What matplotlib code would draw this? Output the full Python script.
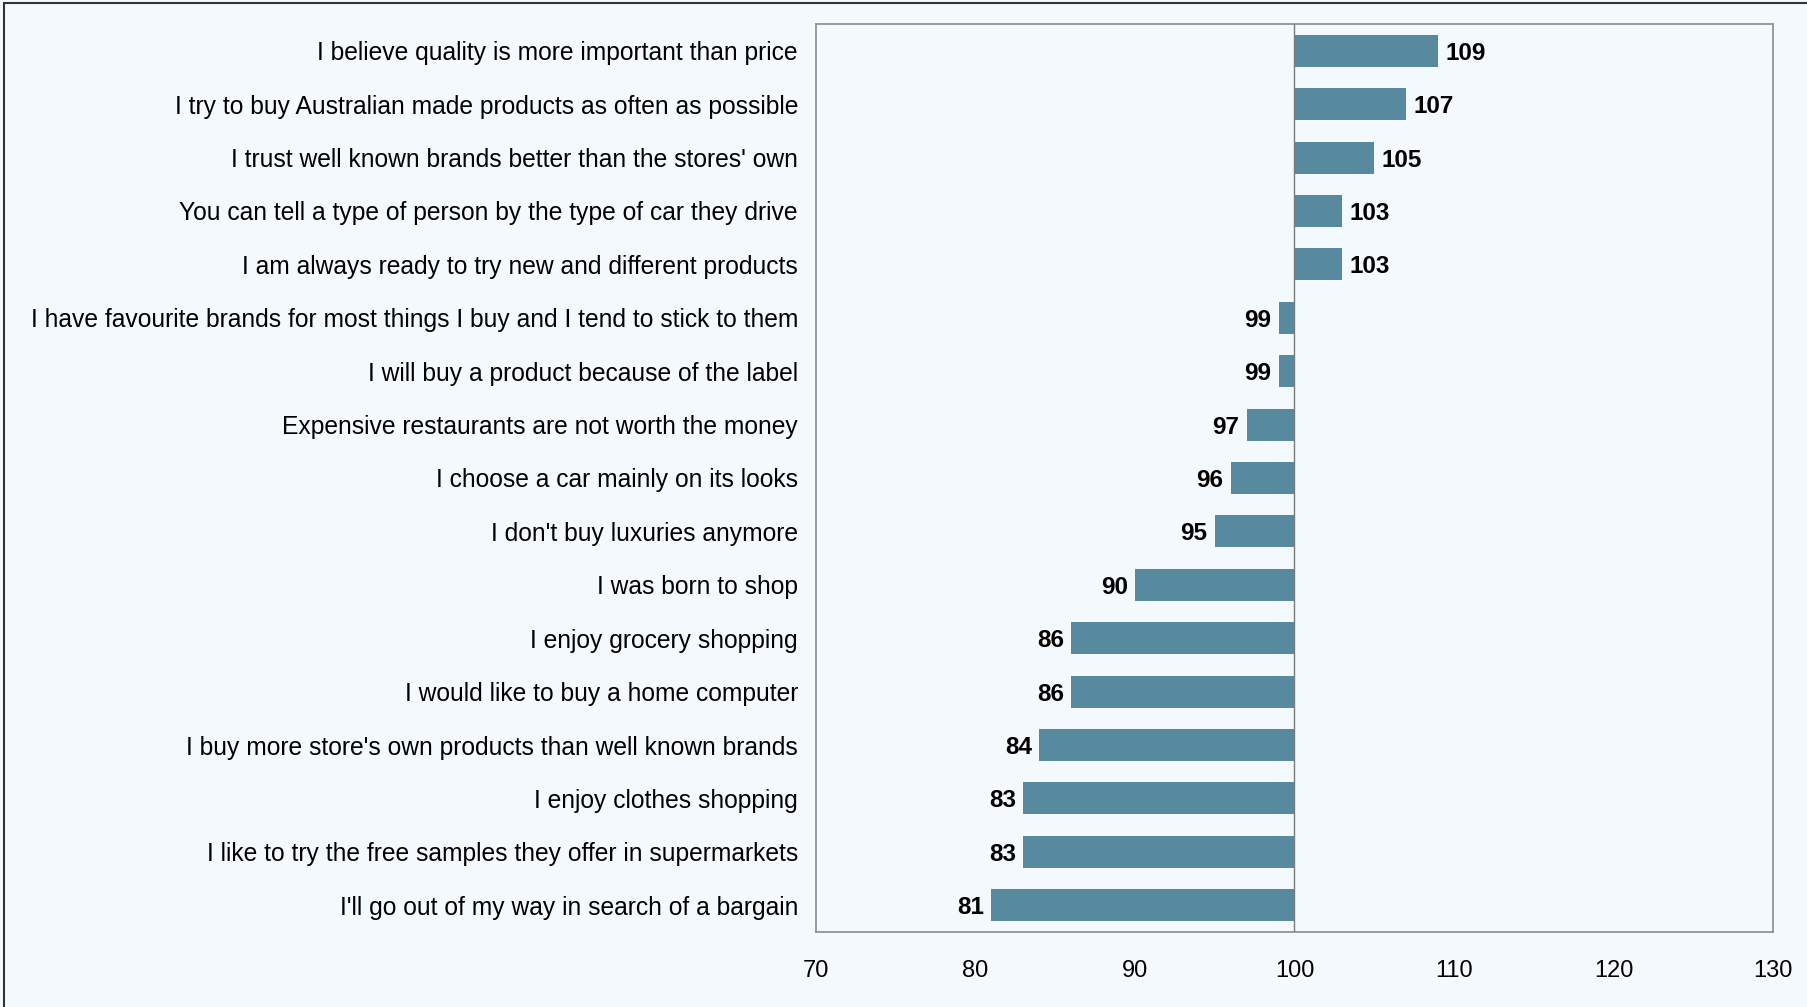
import matplotlib.pyplot as plt
from matplotlib.patches import Rectangle

plt.rcParams['font.family'] = ['Liberation Sans', 'DejaVu Sans']

statements = [
    "I believe quality is more important than price",
    "I try to buy Australian made products as often as possible",
    "I trust well known brands better than the stores' own",
    "You can tell a type of person by the type of car they drive",
    "I am always ready to try new and different products",
    "I have favourite brands for most things I buy and I tend to stick to them",
    "I will buy a product because of the label",
    "Expensive restaurants are not worth the money",
    "I choose a car mainly on its looks",
    "I don't buy luxuries anymore",
    "I was born to shop",
    "I enjoy grocery shopping",
    "I would like to buy a home computer",
    "I buy more store's own products than well known brands",
    "I enjoy clothes shopping",
    "I like to try the free samples they offer in supermarkets",
    "I'll go out of my way in search of a bargain",
]
index_values = [109, 107, 105, 103, 103, 99, 99, 97, 96, 95, 90, 86, 86, 84, 83, 83, 81]
x_ticks = [70, 80, 90, 100, 110, 120, 130]
baseline = 100

bg = '#f4f9fd'
bar_color = '#578a9e'
edge = '#8c8c8c'

fig = plt.figure(figsize=(18.08, 10.07), dpi=100, facecolor=bg)
W, H = 1808, 1007
ax = fig.add_axes([816 / W, 1 - 932 / H, (1773 - 816) / W, (932 - 24) / H])
ax.set_facecolor(bg)

# outer frame (only left/top edges fall inside the canvas)
fig.patches.append(Rectangle((4 / W, -0.1), 1.2, 1 - 3 / H + 0.1, transform=fig.transFigure,
                             fill=False, edgecolor='#333333', linewidth=1.5))

ypos = list(range(len(statements)))
widths = [v - baseline for v in index_values]
ax.barh(ypos, widths, left=baseline, height=0.6, color=bar_color, edgecolor='none', zorder=2)
ax.axvline(baseline, color='#7a7a7a', linewidth=1.0, zorder=3)

for y, v in zip(ypos, index_values):
    if v >= baseline:
        ax.text(v + 0.45, y, str(v), ha='left', va='center_baseline', fontsize=17.5, fontweight='bold')
    else:
        ax.text(v - 0.45, y, str(v), ha='right', va='center_baseline', fontsize=17.5, fontweight='bold')

ax.set_xlim(70, 130)
ax.set_ylim(len(statements) - 0.5, -0.5)
ax.set_xticks(x_ticks)
ax.set_xticklabels([str(t) for t in x_ticks], fontsize=17)
ax.set_yticks(ypos)
ax.set_yticklabels(statements, fontsize=17.7)
ax.tick_params(axis='both', length=0)
ax.tick_params(axis='x', pad=20)
ax.tick_params(axis='y', pad=13)
for s in ax.spines.values():
    s.set_color(edge)
    s.set_linewidth(1.2)

fig.savefig('out.png', dpi=100, facecolor=bg)
